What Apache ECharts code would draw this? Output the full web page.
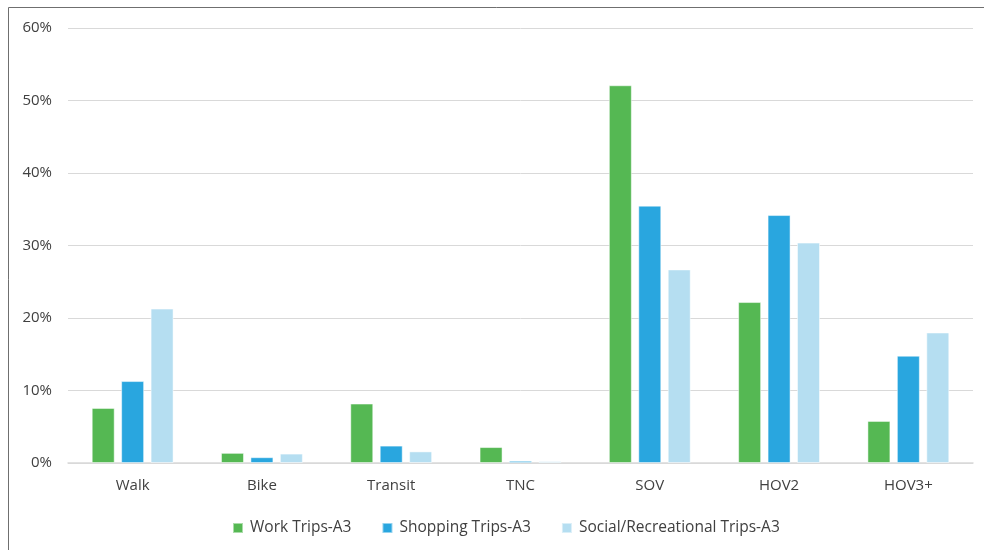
<!DOCTYPE html>
<html>
<head>
<meta charset="utf-8">
<script src="https://cdn.jsdelivr.net/npm/echarts@6/dist/echarts.min.js"></script>
<style>html,body{margin:0;padding:0;background:#fff;}#c{width:984px;height:550px;}</style>
</head>
<body>
<div id="c"></div>
<script>
const categories = ['Walk', 'Bike', 'Transit', 'TNC', 'SOV', 'HOV2', 'HOV3+'];
const workTrips = [7.6, 1.4, 8.2, 2.2, 52.1, 22.2, 5.8];
const shoppingTrips = [11.3, 0.8, 2.4, 0.3, 35.5, 34.2, 14.8];
const socialTrips = [21.3, 1.3, 1.6, 0.25, 26.7, 30.4, 18.0];
const seriesNames = ['Work Trips-A3', 'Shopping Trips-A3', 'Social/Recreational Trips-A3'];
const colors = ['#55B853', '#29A6DF', '#B5DEF1'];

const chart = echarts.init(document.getElementById('c'), null, {renderer: 'canvas'});
const font = '"Open Sans", sans-serif';
const mk = (name, data, color) => ({
  name, type: 'bar', data,
  barWidth: 23, barGap: '28%',
  itemStyle: {color, borderColor: 'rgba(255,255,255,0.5)', borderWidth: 1},
  emphasis: {disabled: true}
});
chart.setOption({
  animation: false,
  textStyle: {fontFamily: font},
  graphic: [{type: 'rect', shape: {x: 8.5, y: 7.5, width: 990, height: 560}, style: {fill: 'none', stroke: '#6f6f6f', lineWidth: 1}, silent: true}],
  grid: {left: 68, right: 11, top: 28, bottom: 87, containLabel: false},
  legend: {
    top: 515, left: 227, itemWidth: 10, itemHeight: 10, itemGap: 30, icon: 'rect',
    textStyle: {fontFamily: font, fontSize: 15.5, color: '#404040', padding: [0, 0, 0, 2]},
    data: seriesNames
  },
  xAxis: {
    type: 'category', data: categories,
    axisLine: {lineStyle: {color: '#d9d9d9', width: 1.5}},
    axisTick: {show: false},
    axisLabel: {color: '#404040', fontSize: 15, margin: 15, fontFamily: font}
  },
  yAxis: {
    type: 'value', min: 0, max: 60, interval: 10,
    axisLine: {show: false}, axisTick: {show: false},
    axisLabel: {formatter: '{value}%', color: '#404040', fontSize: 15, margin: 16, fontFamily: font},
    splitLine: {lineStyle: {color: '#d9d9d9', width: 1}}
  },
  series: [
    mk(seriesNames[0], workTrips, colors[0]),
    mk(seriesNames[1], shoppingTrips, colors[1]),
    mk(seriesNames[2], socialTrips, colors[2])
  ]
});
</script>
</body>
</html>
